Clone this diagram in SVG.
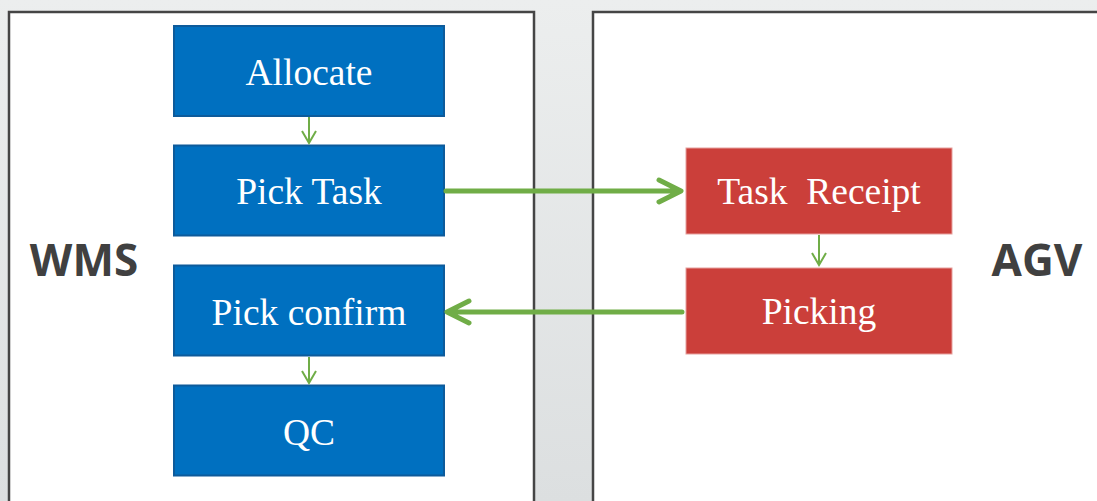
<svg xmlns="http://www.w3.org/2000/svg" width="1097" height="501" viewBox="0 0 1097 501">
<defs>
<linearGradient id="bg" x1="0" y1="0" x2="0" y2="1">
<stop offset="0" stop-color="#eceeee"/>
<stop offset="1" stop-color="#dcdfe0"/>
</linearGradient>
<style>
.panel{fill:#ffffff;stroke:#454545;stroke-width:2.5}
.blue{fill:#0070c0;stroke:#0d5b9b;stroke-width:2}
.red{fill:#cb3f3a;stroke:#e6a09d;stroke-width:1}
.lbl{font-family:"Liberation Serif","Times New Roman",serif;font-size:37.5px;fill:#ffffff;text-anchor:middle}
.sys{font-family:"Open Sans","Noto Sans",sans-serif;font-weight:bold;font-size:44px;fill:#404040;text-anchor:middle}
.big{fill:none;stroke:#70ad47;stroke-width:5;stroke-linecap:round;stroke-linejoin:round}
.small{fill:none;stroke:#70ad47;stroke-width:2}
</style>
</defs>
<rect x="0" y="0" width="1097" height="501" fill="url(#bg)"/>
<g id="wms-panel">
<rect class="panel" x="9" y="12" width="525" height="500"/>
<text class="sys" x="84" y="276">WMS</text>
</g>
<g id="agv-panel">
<rect class="panel" x="593" y="12" width="520" height="500"/>
<text class="sys" x="1037" y="276">AGV</text>
</g>
<g id="allocate">
<rect class="blue" x="174" y="26" width="270" height="90"/>
<text class="lbl" x="309" y="85">Allocate</text>
</g>
<g id="pick-task">
<rect class="blue" x="174" y="145.5" width="270" height="90"/>
<text class="lbl" x="309" y="204">Pick Task</text>
</g>
<g id="pick-confirm">
<rect class="blue" x="174" y="265.5" width="270" height="90"/>
<text class="lbl" x="309" y="325">Pick confirm</text>
</g>
<g id="qc">
<rect class="blue" x="174" y="385.5" width="270" height="90"/>
<text class="lbl" x="309" y="445">QC</text>
</g>
<g id="task-receipt">
<rect class="red" x="686" y="148" width="266" height="86"/>
<text class="lbl" x="819" y="204" xml:space="preserve">Task  Receipt</text>
</g>
<g id="picking">
<rect class="red" x="686" y="268" width="266" height="86"/>
<text class="lbl" x="819" y="324">Picking</text>
</g>
<g id="connectors">
<path class="small" d="M309 117 V143 M302 131 L309 143 L316 131"/>
<path class="small" d="M309 357 V383 M302 371 L309 383 L316 371"/>
<path class="small" d="M819 235 V265 M812 253 L819 265 L826 253"/>
<path class="big" d="M446 191 H680 M659 180 L681 191 L659 202"/>
<path class="big" d="M682 312 H449 M469 301 L447 312 L469 323"/>
</g>
</svg>
